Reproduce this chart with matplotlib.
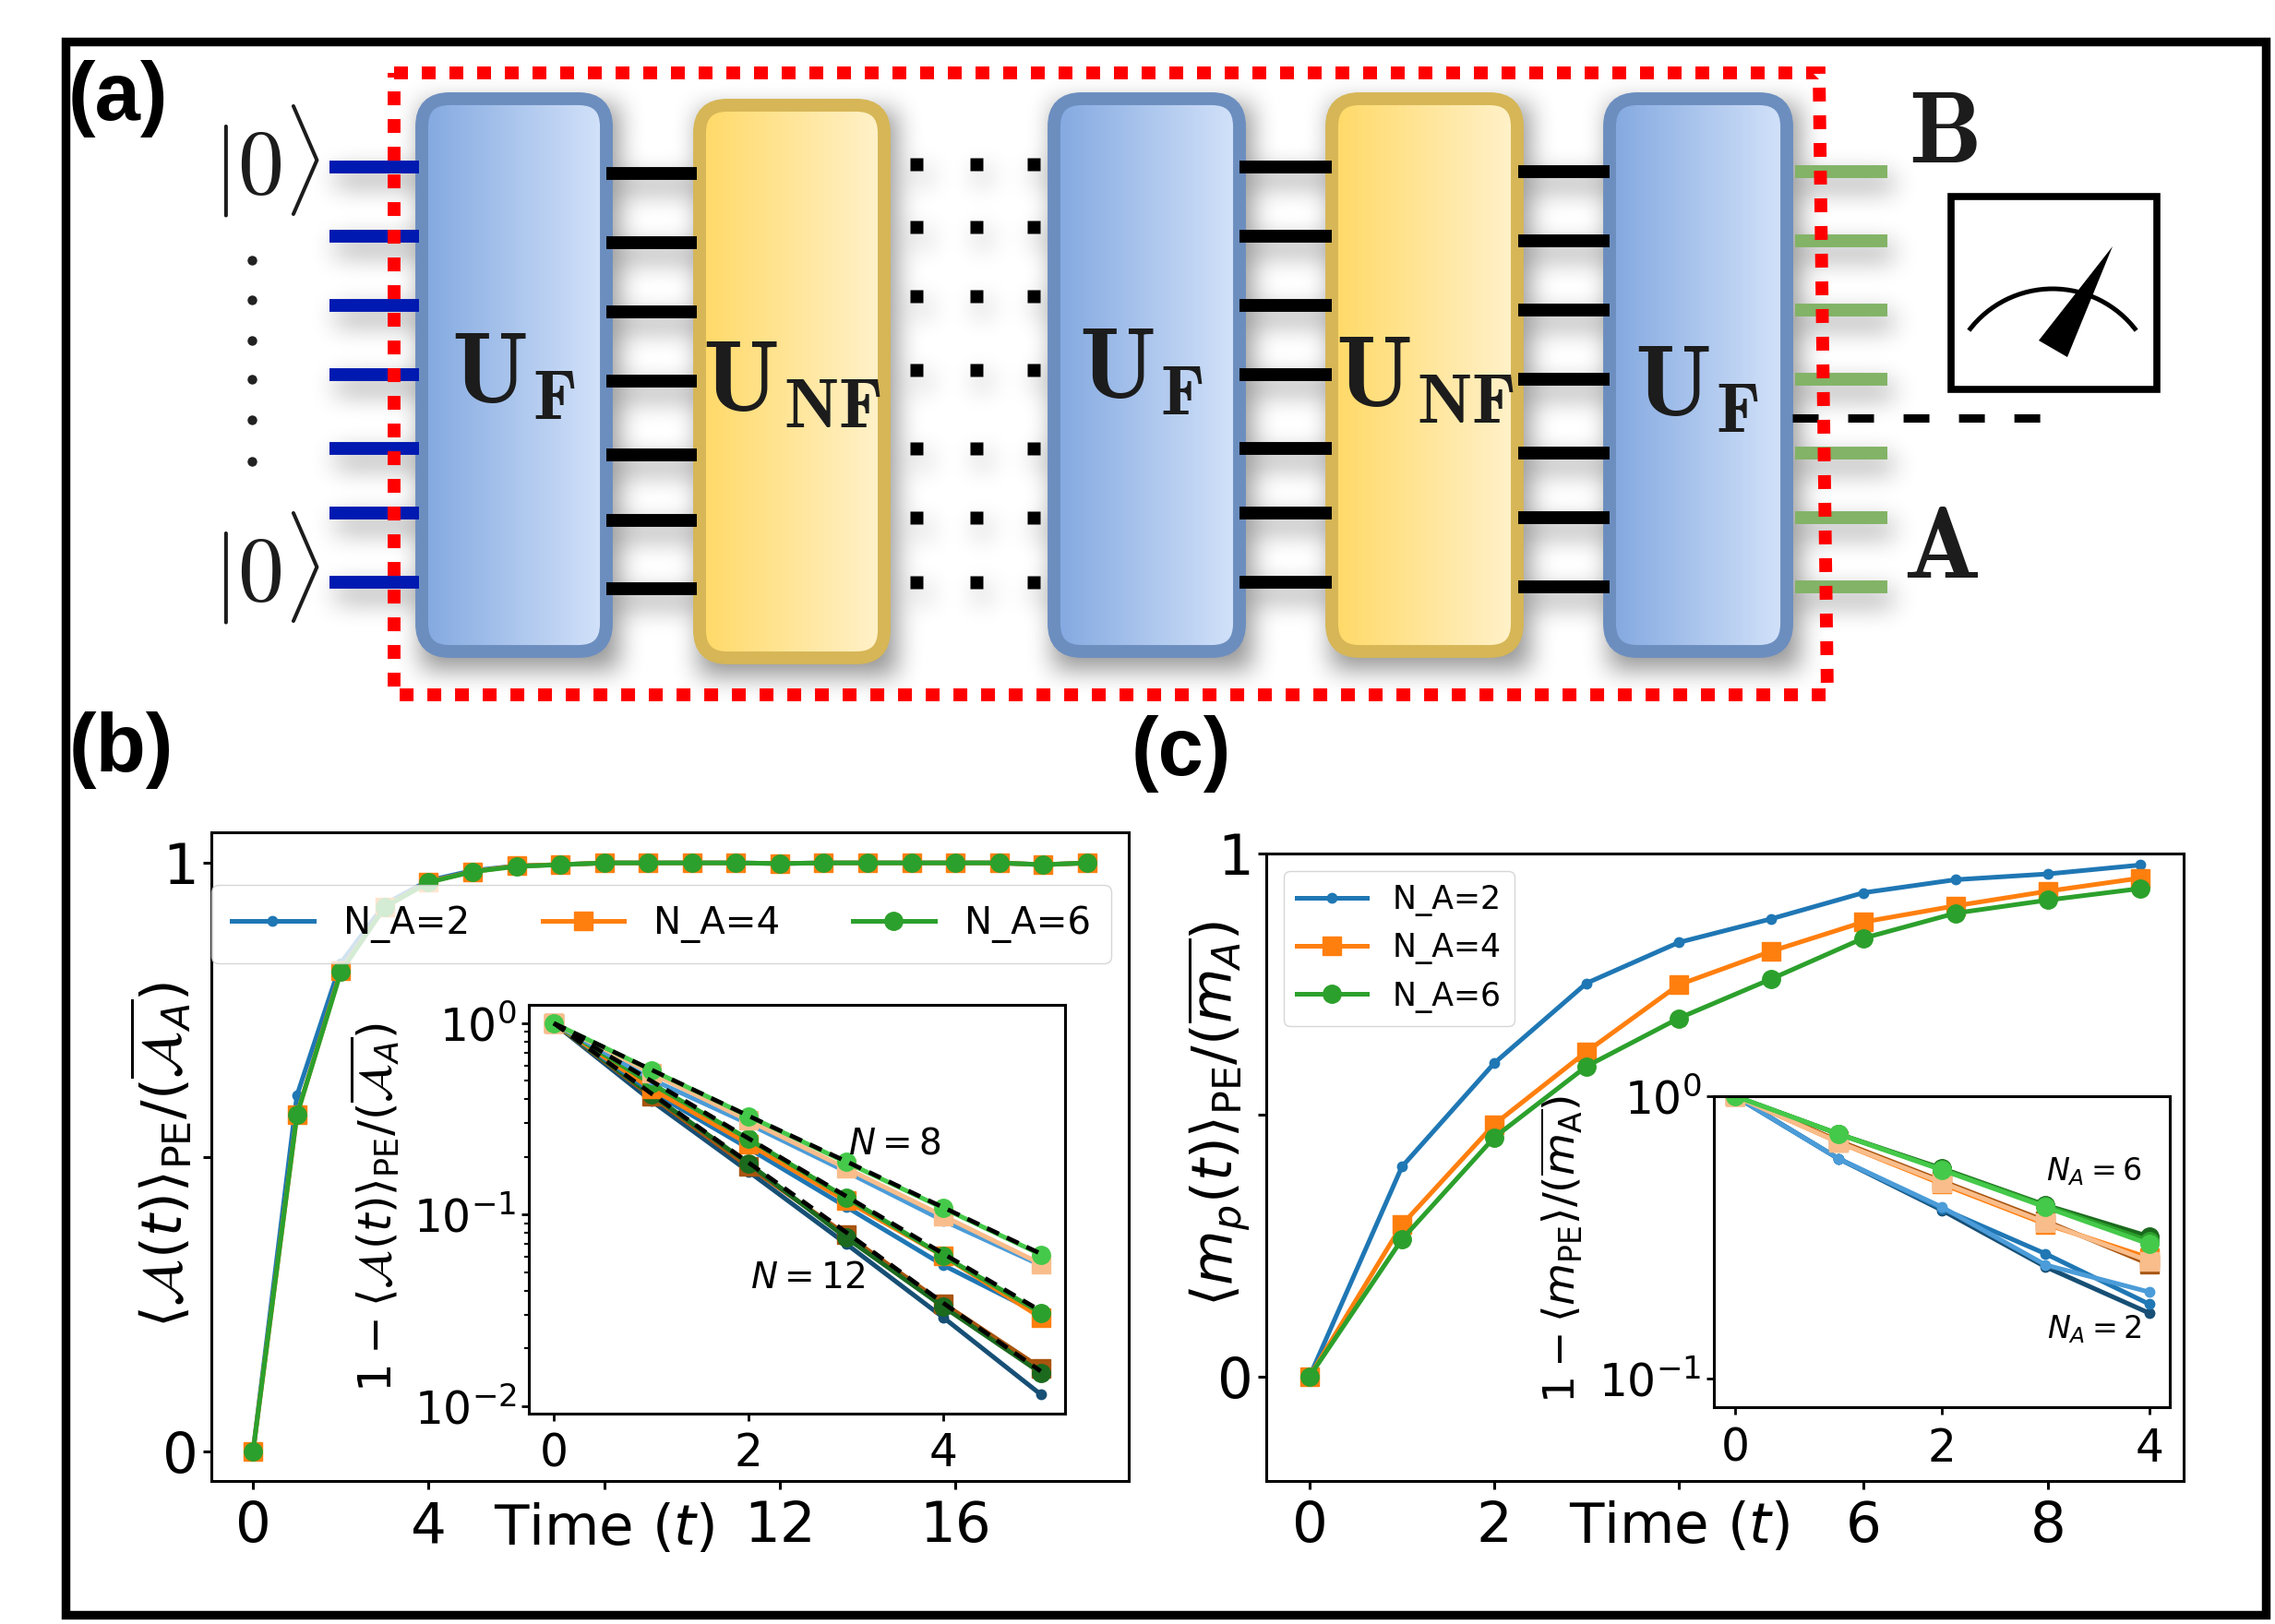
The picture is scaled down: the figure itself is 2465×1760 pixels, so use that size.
import numpy as np
import matplotlib
matplotlib.use('Agg')
import matplotlib.pyplot as plt
from matplotlib.patches import FancyBboxPatch, Rectangle, Arc, Polygon
from matplotlib.ticker import NullLocator, FixedLocator

W, H = 2465, 1760

# panel (b) main curves
time_b = list(range(20))
area_na2 = [0, 0.605, 0.83, 0.93, 0.97, 0.987, 0.995, 0.997, 1, 1, 1, 1, 0.999, 1, 1, 1, 1, 1, 0.997, 1]
area_na4 = [0, 0.572, 0.817, 0.925, 0.968, 0.985, 0.995, 0.997, 1, 1, 1, 1, 0.999, 1, 1, 1, 1, 1, 0.997, 1]
area_na6 = [0, 0.572, 0.815, 0.925, 0.967, 0.985, 0.994, 0.997, 1, 1, 1, 1, 0.999, 1, 1, 1, 1, 1, 0.997, 1]

# panel (b) inset
t_in_b = [0, 1, 2, 3, 4, 5]
n8_na2 = [1, 0.510, 0.298, 0.168, 0.0930, 0.0544]
n8_na4 = [1, 0.549, 0.310, 0.175, 0.0984, 0.0554]
n8_na6 = [1, 0.570, 0.327, 0.188, 0.108, 0.0619]
n10_na2 = [1, 0.440, 0.222, 0.110, 0.0544, 0.0301]
n10_na4 = [1, 0.456, 0.234, 0.118, 0.0608, 0.0290]
n10_na6 = [1, 0.483, 0.248, 0.123, 0.0608, 0.0307]
n12_na2 = [1, 0.394, 0.168, 0.0705, 0.0290, 0.0115]
n12_na4 = [1, 0.416, 0.178, 0.0787, 0.0343, 0.0158]
n12_na6 = [1, 0.424, 0.185, 0.0759, 0.0330, 0.0149]
fit_n8 = [1, 0.572, 0.328, 0.190, 0.109, 0.0625]
fit_n10 = [1, 0.50, 0.25, 0.125, 0.0625, 0.0314]
fit_n12 = [1, 0.43, 0.187, 0.081, 0.0345, 0.0152]

# panel (c) main curves
time_c = list(range(10))
mag_na2 = [0, 0.401, 0.599, 0.752, 0.830, 0.875, 0.925, 0.950, 0.961, 0.978]
mag_na4 = [0, 0.29, 0.482, 0.621, 0.749, 0.813, 0.869, 0.900, 0.928, 0.953]
mag_na6 = [0, 0.262, 0.457, 0.593, 0.685, 0.760, 0.838, 0.886, 0.911, 0.933]

# panel (c) inset, three system sizes per N_A
t_in_c = [0, 1, 2, 3, 4]
m_na2_dark = [1, 0.601, 0.395, 0.249, 0.171]
m_na2_mid = [1, 0.601, 0.400, 0.277, 0.184]
m_na2_light = [1, 0.601, 0.405, 0.253, 0.203]
m_na4_dark = [1, 0.695, 0.501, 0.362, 0.255]
m_na4_mid = [1, 0.687, 0.489, 0.353, 0.268]
m_na4_light = [1, 0.687, 0.495, 0.357, 0.261]
m_na6_dark = [1, 0.735, 0.555, 0.412, 0.319]
m_na6_mid = [1, 0.735, 0.551, 0.410, 0.308]
m_na6_light = [1, 0.735, 0.548, 0.405, 0.300]

# schematic layout, pixels of the full picture
blocks = [(450, 100, 664, 713, 'F'), (751, 107, 965, 720, 'NF'), (1135, 100, 1350, 713, 'F'),
          (1436, 100, 1651, 713, 'NF'), (1737, 100, 1943, 713, 'F')]
block_labels = [(556, 407), (858, 416), (1236, 402), (1544, 411), (1838, 421)]
wires_in = [181, 256, 331, 406, 486, 556, 631]
wires_1 = [188, 263, 338, 413, 493, 564, 638]
wires_3 = [181, 256, 331, 406, 486, 556, 631]
wires_4 = [186, 261, 336, 411, 491, 561, 636]
dots_x = [993, 1058, 1120]
dots_y = [178, 246, 321, 401, 486, 561, 631]
vdots_y = [282, 325, 369, 411, 455, 500]

BLUE, ORANGE, GREEN = '#1f77b4', '#ff7f0e', '#2ca02c'
LIGHT = ['#4b9cd8', '#f9bd8b', '#45c94a']
DARK = ['#174f75', '#a8550f', '#1b6a1e']

plt.rcParams['font.family'] = ['DejaVu Sans']
plt.rcParams['mathtext.fontset'] = 'dejavusans'
plt.rcParams['axes.linewidth'] = 2.2

fig = plt.figure(figsize=(W / 100, H / 100), dpi=100)
bg = fig.add_axes([0, 0, 1, 1])
bg.set_axis_off()


def px_axes(left, top, right, bottom):
    return fig.add_axes([left / W, 1 - bottom / H, (right - left) / W, (bottom - top) / H])


def soft_shadow(rects, dx=8, dy=14, size=13, strength=0.42):
    mask = np.zeros((H, W))
    for x0, y0, x1, y1 in rects:
        mask[y0 + dy:y1 + dy, x0 + dx:x1 + dx] = 1
    # box blur three times along each direction
    for axis in (0, 1):
        for _ in range(3):
            c = np.cumsum(mask, axis=axis)
            mask = (np.roll(c, -size, axis=axis) - np.roll(c, size, axis=axis)) / (2 * size)
            mask = np.clip(mask, 0, 1)
    img = np.zeros((H, W, 4))
    img[..., 3] = mask * strength
    return img


shadow_rects = [(b[0], b[1], b[2], b[3]) for b in blocks]
for y in wires_in:
    shadow_rects.append((357, y - 7, 454, y + 7))
for y in wires_1:
    shadow_rects.append((657, y - 7, 755, y + 7))
for y in wires_3:
    shadow_rects.append((1343, y - 7, 1443, y + 7))
for y in wires_4:
    shadow_rects.append((1645, y - 7, 1744, y + 7))
    shadow_rects.append((1945, y - 7, 2045, y + 7))
for y in dots_y:
    for x in dots_x:
        shadow_rects.append((x - 6, y - 7, x + 6, y + 7))
bg.imshow(soft_shadow(shadow_rects), extent=(0, W, H, 0), aspect='auto', zorder=1)

for x0, y0, x1, y1, kind in blocks:
    if kind == 'F':
        cmap = matplotlib.colors.LinearSegmentedColormap.from_list('b', ['#82a8e0', '#d4e3fa'])
        edge = '#6c8ebf'
    else:
        cmap = matplotlib.colors.LinearSegmentedColormap.from_list('y', ['#ffd966', '#fff2cc'])
        edge = '#d6b656'
    patch = FancyBboxPatch((x0 + 7, y0 + 7), x1 - x0 - 14, y1 - y0 - 14,
                           boxstyle='round,pad=0,rounding_size=30', fc='none', ec=edge,
                           lw=10, zorder=3)
    bg.add_patch(patch)
    grad = bg.imshow(np.linspace(0, 1, 256)[None, :], cmap=cmap, aspect='auto',
                     extent=(x0 + 7, x1 - 7, y1 - 7, y0 + 7), zorder=2)
    grad.set_clip_path(patch)

for x0, x1, ys, col in [(357, 454, wires_in, '#0019b0'), (657, 755, wires_1, 'black'),
                        (1343, 1443, wires_3, 'black'), (1645, 1744, wires_4, 'black'),
                        (1945, 2045, wires_4, '#82b366')]:
    for y in ys:
        bg.plot([x0, x1], [y, y], color=col, lw=10, solid_capstyle='butt', zorder=4)

for y in dots_y:
    bg.plot(dots_x, [y] * 3, ls='none', marker='s', ms=10.5, mfc='black', mec='none', zorder=4)
bg.plot([273] * 6, vdots_y, ls='none', marker='o', ms=7.5, mfc='#222222', mec='none', zorder=4)

# dashed wire to the meter, red frame goes over it
bg.plot([1942, 2214], [453, 453], color='black', lw=6.5, ls=(0, (3.1, 3.55)), dash_capstyle='butt', zorder=4)
bg.plot([427, 1971, 1980, 427, 427], [79, 79, 753, 753, 79], color='red', lw=10,
        ls=(0, (1.08, 1.08)), dash_capstyle='butt', dash_joinstyle='miter', zorder=5)

bg.add_patch(Rectangle((2114, 213), 223, 209, fc='white', ec='black', lw=5.5, zorder=4))
bg.add_patch(Arc((2224, 426.5), 227, 227, theta1=217, theta2=323, color='black', lw=3.6, zorder=5))
bg.add_patch(Polygon([(2289, 267), (2209, 369), (2240, 387)], fc='black', ec='none', zorder=5))

for (x, y), b in zip(block_labels, blocks):
    lab = r'$\mathbf{U}_{\mathbf{%s}}$' % b[4]
    bg.text(x, y, lab, fontsize=78, color='#1c1c1c', ha='center', va='center', math_fontfamily='cm', zorder=6)
bg.text(289, 175, r'$|0\rangle$', fontsize=72, color='#1c1c1c', ha='center', va='center', math_fontfamily='cm', zorder=6)
bg.text(289, 616, r'$|0\rangle$', fontsize=72, color='#1c1c1c', ha='center', va='center', math_fontfamily='cm', zorder=6)
bg.text(2105, 146, r'$\mathbf{B}$', fontsize=80, color='#1c1c1c', ha='center', va='center', math_fontfamily='cm', zorder=6)
bg.text(2103, 596, r'$\mathbf{A}$', fontsize=80, color='#1c1c1c', ha='center', va='center', math_fontfamily='cm', zorder=6)

bg.add_patch(Rectangle((70.5, 45), 2384, 1705, fc='none', ec='black', lw=6.8, zorder=7))
for x, y, s in [(74, 107, '(a)'), (75, 813, '(b)'), (1226, 817, '(c)')]:
    bg.text(x, y, s, fontsize=64, fontweight='bold', family='Liberation Sans', ha='left', va='center', zorder=8)

bg.set_xlim(0, W)
bg.set_ylim(H, 0)


def main_style(ax):
    ax.tick_params(axis='both', which='major', labelsize=44, length=6.5, width=2.2)
    ax.tick_params(axis='x', which='major', pad=8)


# panel (b)
ax_b = px_axes(229, 902, 1223, 1605)
ax_b.plot(time_b, area_na2, color=BLUE, marker='.', ms=15, lw=3.6, label='N_A=2')
ax_b.plot(time_b, area_na4, color=ORANGE, marker='s', ms=14, lw=3.6, label='N_A=4')
ax_b.plot(time_b, area_na6, color=GREEN, marker='o', ms=14, lw=3.6, label='N_A=6')
ax_b.set_xlim(-0.95, 19.95)
ax_b.set_ylim(-0.05, 1.052)
ax_b.xaxis.set_major_locator(FixedLocator([0, 4, 8, 12, 16]))
ax_b.set_xticklabels(['0', '4', '', '12', '16'])
ax_b.yaxis.set_major_locator(FixedLocator([0, 0.5, 1]))
ax_b.set_yticklabels(['0', '', '1'])
main_style(ax_b)
ax_b.set_xlabel(r'Time ($t$)', fontsize=44)
ax_b.xaxis.set_label_coords(0.428, -0.033)
ax_b.set_ylabel(r'$\langle\mathcal{A}(t)\rangle_{\mathrm{PE}}/(\overline{\mathcal{A}_{A}})$', fontsize=44,
                ha='center', va='center')
ax_b.yaxis.set_label_coords(175, 1251, transform=bg.transData)
ax_b.legend(ncol=3, fontsize=29, loc='upper left', bbox_to_anchor=(0.0, 0.919), borderaxespad=0,
            handlelength=2.2, columnspacing=1.95, borderpad=0.55, framealpha=0.8)

# panel (b) inset
in_b = px_axes(573, 1089, 1154, 1532)
for ys, cols in [((n12_na2, n12_na4, n12_na6), DARK), ((n10_na2, n10_na4, n10_na6), (BLUE, ORANGE, GREEN)),
                 ((n8_na2, n8_na4, n8_na6), LIGHT)]:
    in_b.plot(t_in_b, ys[0], color=cols[0], marker='.', ms=15, lw=3.6)
    in_b.plot(t_in_b, ys[1], color=cols[1], marker='s', ms=14, lw=3.6)
    in_b.plot(t_in_b, ys[2], color=cols[2], marker='o', ms=14, lw=3.6)
for fit in (fit_n8, fit_n10, fit_n12):
    in_b.plot(t_in_b, fit, color='black', lw=3.4, ls=(0, (3, 2)))
in_b.set_yscale('log')
in_b.set_xlim(-0.256, 5.25)
in_b.set_ylim(10 ** -2.04, 10 ** 0.096)
in_b.set_xticks([0, 2, 4])
in_b.tick_params(axis='both', which='major', labelsize=35, length=6, width=2)
in_b.tick_params(axis='x', which='major', pad=8)
in_b.tick_params(axis='y', which='minor', length=3.5, width=1.5)
in_b.set_ylabel(r'$1-\langle\mathcal{A}(t)\rangle_{\mathrm{PE}}/(\overline{\mathcal{A}_{A}})$', fontsize=36,
                ha='center', va='center')
in_b.yaxis.set_label_coords(406, 1309, transform=bg.transData)
in_b.text(3.5, 0.234, r'$N=8$', fontsize=28, ha='center', va='center')
in_b.text(2.61, 0.0468, r'$N=12$', fontsize=28, ha='center', va='center')

# panel (c)
ax_c = px_axes(1372, 925, 2366, 1605)
ax_c.plot(time_c, mag_na2, color=BLUE, marker='.', ms=15, lw=3.6, label='N_A=2')
ax_c.plot(time_c, mag_na4, color=ORANGE, marker='s', ms=14, lw=3.6, label='N_A=4')
ax_c.plot(time_c, mag_na6, color=GREEN, marker='o', ms=14, lw=3.6, label='N_A=6')
ax_c.set_xlim(-0.47, 9.47)
ax_c.set_ylim(-0.2, 1.0)
ax_c.xaxis.set_major_locator(FixedLocator([0, 2, 4, 6, 8]))
ax_c.set_xticklabels(['0', '2', '', '6', '8'])
ax_c.yaxis.set_major_locator(FixedLocator([0, 0.5, 1]))
ax_c.set_yticklabels(['0', '', '1'])
main_style(ax_c)
ax_c.set_xlabel(r'Time ($t$)', fontsize=44)
ax_c.xaxis.set_label_coords(0.45, -0.031)
ax_c.set_ylabel(r'$\langle m_p(t)\rangle_{\mathrm{PE}}/(\overline{m_{A}})$', fontsize=44,
                ha='center', va='center')
ax_c.yaxis.set_label_coords(1320, 1207, transform=bg.transData)
ax_c.legend(fontsize=25, loc='upper left', bbox_to_anchor=(0.019, 0.972), borderaxespad=0,
            handlelength=2.2, framealpha=0.8)

# panel (c) inset
in_c = px_axes(1857, 1188, 2351, 1525)
for ys, cols in [((m_na2_dark, m_na4_dark, m_na6_dark), DARK),
                 ((m_na2_mid, m_na4_mid, m_na6_mid), (BLUE, ORANGE, GREEN)),
                 ((m_na2_light, m_na4_light, m_na6_light), LIGHT)]:
    in_c.plot(t_in_c, ys[0], color=cols[0], marker='.', ms=15, lw=3.6)
    in_c.plot(t_in_c, ys[1], color=cols[1], marker='s', ms=14, lw=3.6)
    in_c.plot(t_in_c, ys[2], color=cols[2], marker='o', ms=14, lw=3.6)
in_c.set_yscale('log')
in_c.set_xlim(-0.205, 4.2)
in_c.set_ylim(10 ** -1.1, 1.0)
in_c.set_xticks([0, 2, 4])
in_c.yaxis.set_minor_locator(NullLocator())
in_c.tick_params(axis='both', which='major', labelsize=35, length=6, width=2)
in_c.tick_params(axis='x', which='major', pad=9)
in_c.set_ylabel(r'$1-\langle m_{\mathrm{PE}}\rangle/(\overline{m_{\mathrm{A}}})$', fontsize=34, ha='center', va='center')
in_c.yaxis.set_label_coords(1692, 1354, transform=bg.transData)
in_c.text(3.47, 0.54, r'$N_A=6$', fontsize=24, ha='center', va='center')
in_c.text(3.47, 0.15, r'$N_A=2$', fontsize=24, ha='center', va='center')

fig.savefig('out.png', dpi=100)
